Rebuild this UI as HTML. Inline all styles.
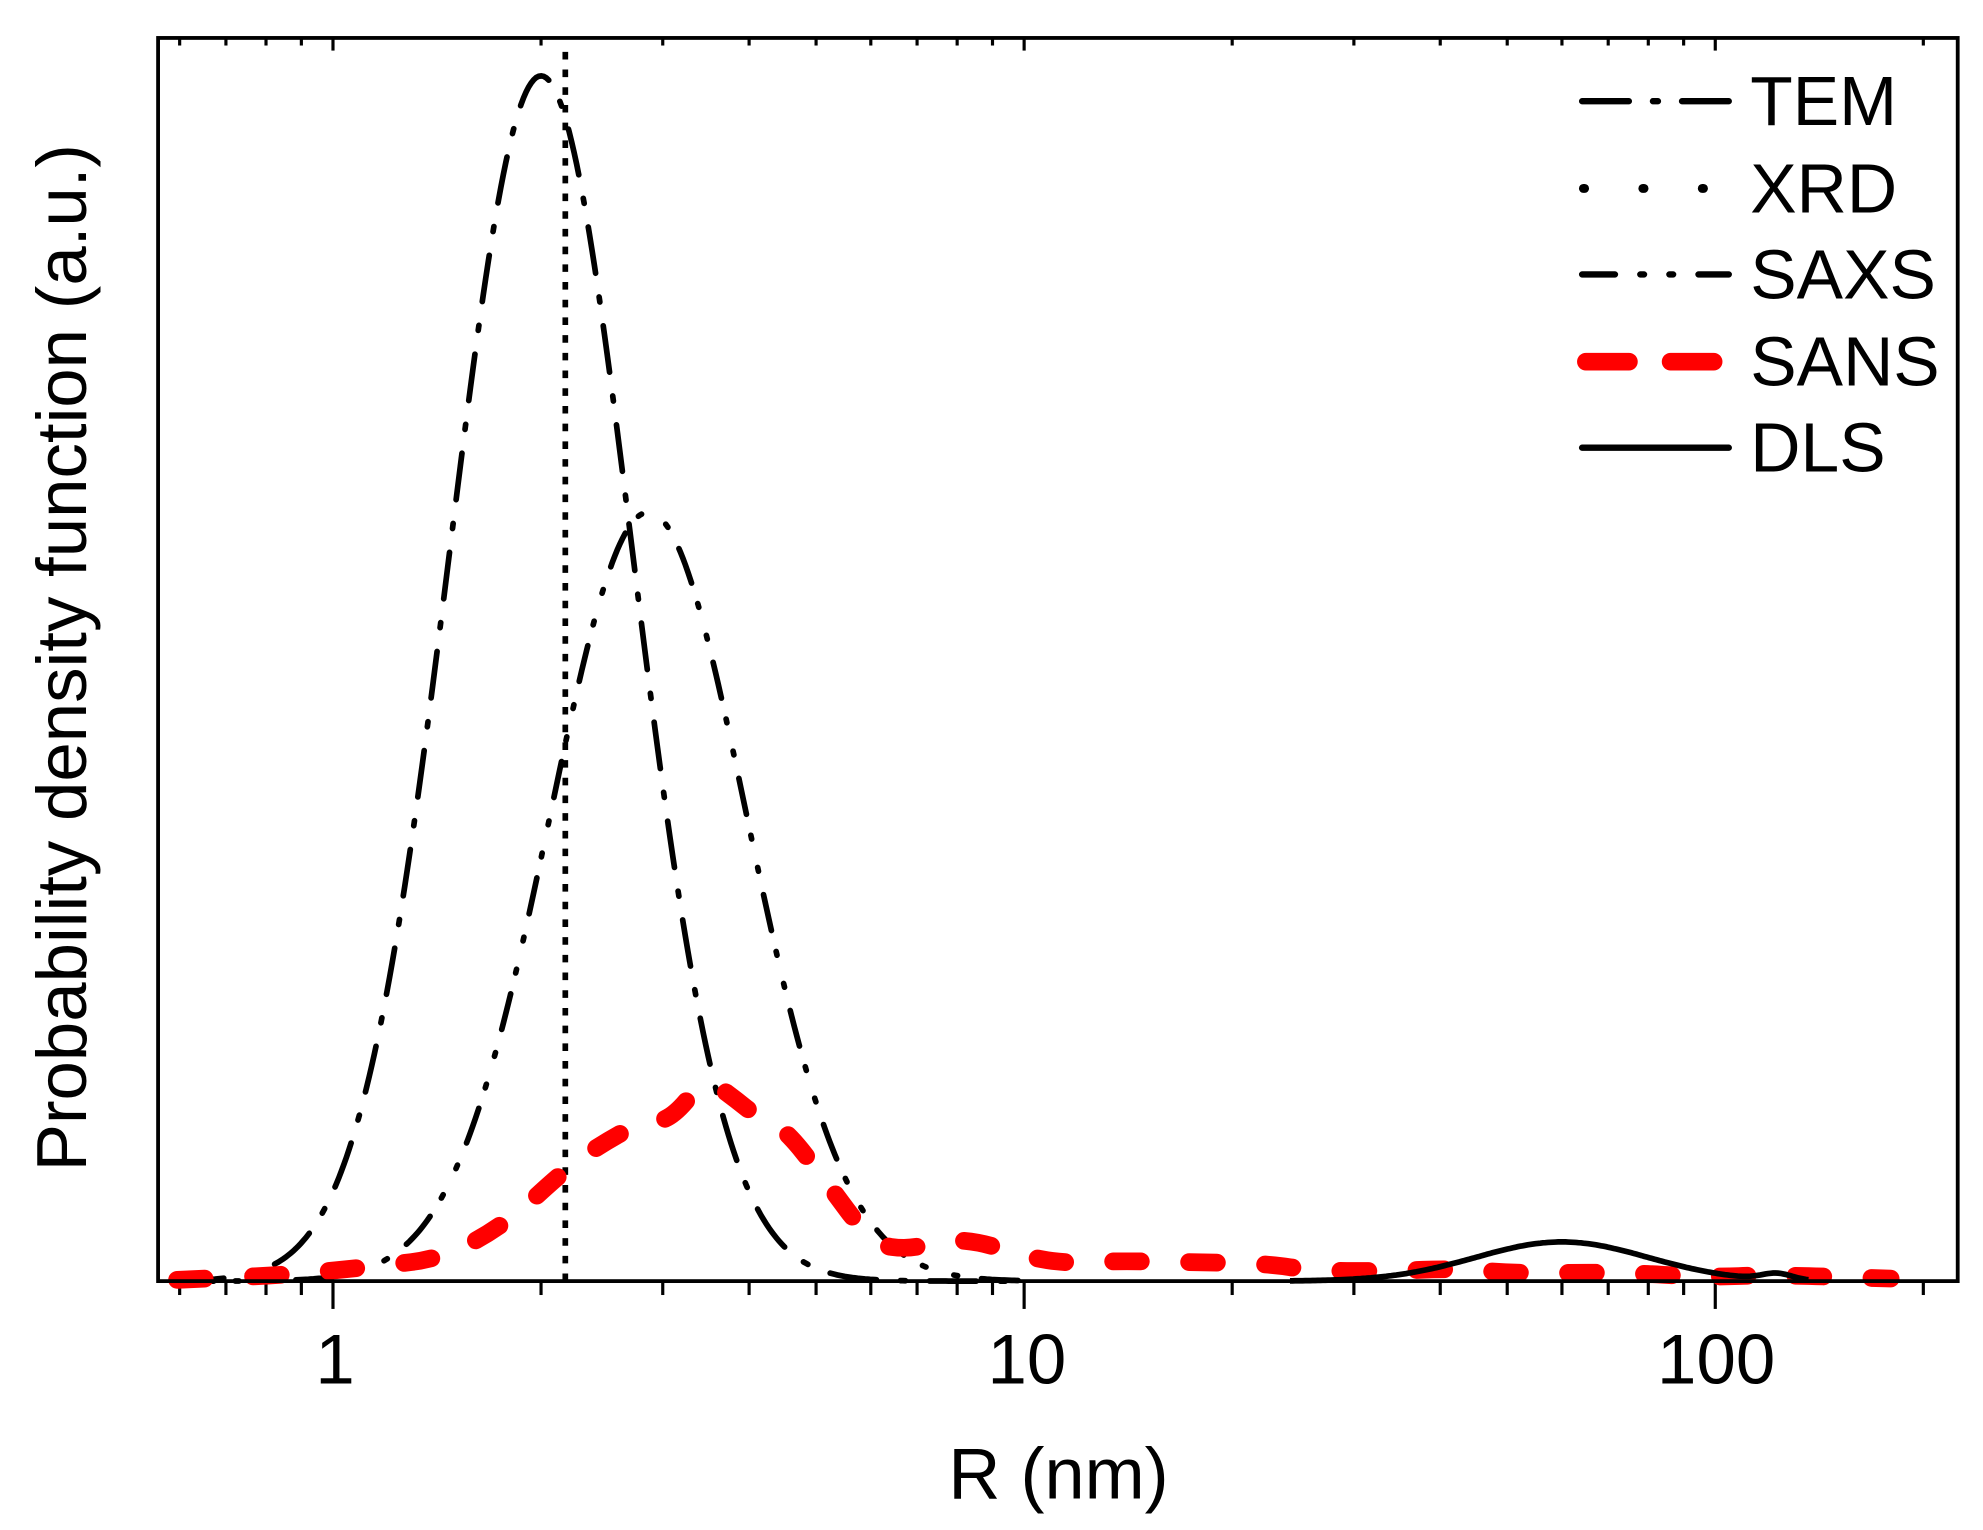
<!DOCTYPE html>
<html><head><meta charset="utf-8"><style>
html,body{margin:0;padding:0;background:#fff;}
svg{display:block;}
text{font-family:"Liberation Sans",Arial,sans-serif;fill:#000;}
</style></head><body>
<svg id="s" width="1983" height="1530" viewBox="0 0 1568 1209.8" xmlns="http://www.w3.org/2000/svg">
<g id="ticks" stroke="#000" stroke-width="2.5"></g>
<path id="tem" fill="none" stroke="#000" stroke-width="4.5" stroke-linecap="round" stroke-dasharray="37 19 4 19"/>
<path id="saxs" fill="none" stroke="#000" stroke-width="4.5" stroke-linecap="round" stroke-dasharray="29 17 3 23 3 19"/>
<line x1="447" y1="1013" x2="447" y2="40" stroke="#000" stroke-width="4.5" stroke-dasharray="6 8"/>
<path id="sans" fill="none" stroke="#f00" stroke-width="14" stroke-linecap="round" stroke-dasharray="22 38"/>
<path id="dls" fill="none" stroke="#000" stroke-width="4.5"/>
<rect x="125" y="30" width="1423" height="983" fill="none" stroke="#000" stroke-width="3"/>
<g stroke-width="5" stroke-linecap="round" fill="none">
<line x1="1251" y1="80" x2="1367" y2="80" stroke="#000" stroke-dasharray="37 19 4 19"/>
<line x1="1252" y1="149" x2="1367" y2="149" stroke="#000" stroke-width="7" stroke-dasharray="1 46"/>
<line x1="1251" y1="217" x2="1367" y2="217" stroke="#000" stroke-dasharray="26 20 3 20 3 20"/>
<line x1="1254" y1="286" x2="1360" y2="286" stroke="#f00" stroke-width="14" stroke-dasharray="34 33"/>
<line x1="1251" y1="354" x2="1367" y2="354" stroke="#000"/>
</g>
<g font-size="55">
<text x="1384" y="99">TEM</text>
<text x="1384" y="168">XRD</text>
<text x="1384" y="236">SAXS</text>
<text x="1384" y="305">SANS</text>
<text x="1384" y="373">DLS</text>
</g>
<g font-size="56" text-anchor="middle">
<text x="265" y="1094">1</text>
<text x="812" y="1094">10</text>
<text x="1357" y="1094">100</text>
</g>
<text x="837" y="1185" font-size="57" text-anchor="middle">R (nm)</text>
<text transform="translate(68,520) rotate(-90)" font-size="56" text-anchor="middle">Probability density function (a.u.)</text>
</svg>
<script>
var X=function(r){return 263.3+546.5*Math.log10(r);};
var B=1013,g=document.getElementById('ticks'),h='';
[0.6,0.7,0.8,0.9,1,2,3,4,5,6,7,8,9,10,20,30,40,50,60,70,80,90,100,200].forEach(function(v){
 var x=X(v);if(x<126||x>1547)return;var maj=(v==1||v==10||v==100);
 h+='<line x1="'+x+'" y1="'+B+'" x2="'+x+'" y2="'+(B+(maj?22:11))+'"/>';
 h+='<line x1="'+x+'" y1="30" x2="'+x+'" y2="'+(30+(maj?10:6))+'"/>';
});
g.innerHTML=h;
function lg(id,mu,sig,amp,x0,x1){var d='';for(var x=x0;x<=x1;x+=2){var l=(x-263.3)/546.5;var y=B-amp*Math.exp(-Math.pow(l-mu,2)/(2*sig*sig));d+=(d?'L':'M')+x.toFixed(1)+','+y.toFixed(1);}document.getElementById(id).setAttribute('d',d);}
lg('tem',Math.log10(2.0),0.132,953,140,810);
lg('saxs',Math.log10(2.86),0.142,608,140,820);
var pts=[[140,1012],[230,1008],[300,1001],[350,995],[400,968],[450,922],[480,902],[510,886],[530,886],[558,852],[580,868],[600,884],[620,892],[650,930],[690,984],[720,988],[745,980],[775,982],[805,992],[840,999],[880,997],[940,998],[1000,999],[1040,1005],[1100,1005],[1150,1003],[1200,1007],[1280,1006],[1350,1010],[1400,1008],[1495,1011]];
var d='M'+pts[0];for(var i=1;i<pts.length;i++){var p=pts[i-1],q=pts[i];var mx=(p[0]+q[0])/2;d+='Q'+p[0]+','+p[1]+' '+mx+','+((p[1]+q[1])/2);}d+='L'+pts[pts.length-1];
document.getElementById('sans').setAttribute('d',d);
var dd='';for(var x=1020;x<=1430;x+=2){var y=B-31*Math.exp(-Math.pow(x-1235,2)/(2*68*68))-5*Math.exp(-Math.pow(x-1405,2)/(2*12*12));dd+=(dd?'L':'M')+x+','+y.toFixed(1);}
document.getElementById('dls').setAttribute('d',dd);
</script>
</body></html>
